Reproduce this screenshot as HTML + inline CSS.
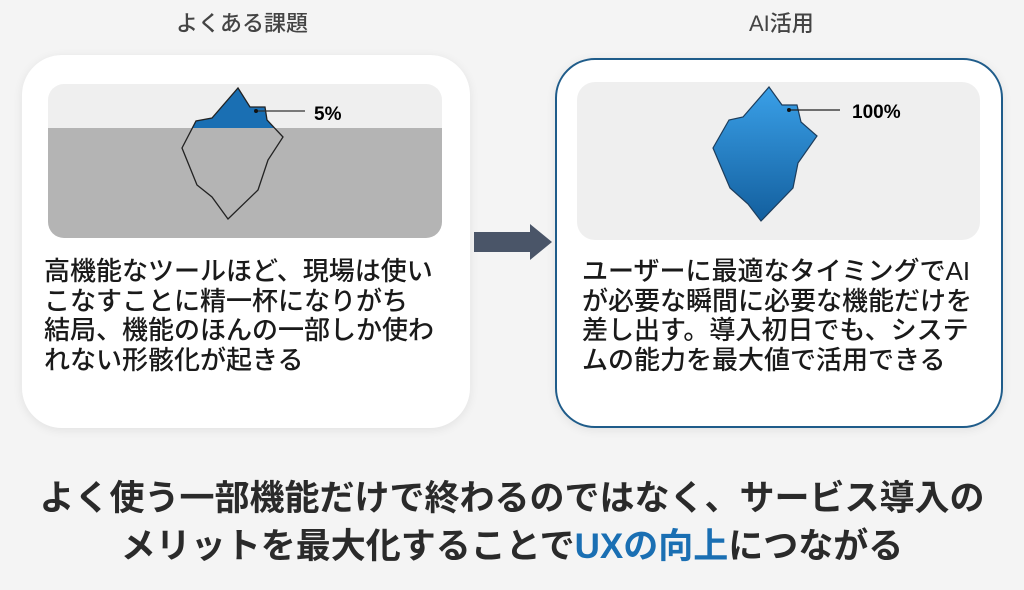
<!DOCTYPE html>
<html><head><meta charset="utf-8"><style>
body{margin:0;width:1024px;height:590px;background:#f4f4f4;font-family:"Liberation Sans","Noto Sans CJK JP",sans-serif;position:relative;overflow:hidden}
.t{position:absolute;white-space:nowrap}
.card{position:absolute;background:#fff;border-radius:40px;box-shadow:0 2px 10px rgba(0,0,0,.08)}
.body{position:absolute;font-size:26px;line-height:29.5px;color:#1a1a1a;font-weight:500;white-space:nowrap}
</style></head><body>
<div class="t" style="left:176px;top:6px;font-size:22px;color:#444;font-weight:500">よくある課題</div>
<div class="t" style="left:749px;top:6px;font-size:22px;color:#444;font-weight:500">AI活用</div>
<div class="card" style="left:22px;top:55px;width:448px;height:373px"></div>
<div class="card" style="left:555px;top:58px;width:444px;height:366px;border:2px solid #1f5c8a"></div>
<svg style="position:absolute;left:0;top:0" width="1024" height="590">
<defs><linearGradient id="g" x1="0" y1="0" x2="0" y2="1"><stop offset="0" stop-color="#3aa0e8"/><stop offset="1" stop-color="#135f9e"/></linearGradient>
<clipPath id="c"><rect x="48" y="84" width="394" height="154" rx="16"/></clipPath></defs>
<g clip-path="url(#c)"><rect x="48" y="84" width="394" height="44" fill="#efefef"/><rect x="48" y="128" width="394" height="110" fill="#b4b4b4"/></g>
<clipPath id="top"><rect x="0" y="0" width="500" height="128"/></clipPath>
<polygon clip-path="url(#top)" points="238,88 250,107 265,107 267,120 283,137 268,160 258,190 228,219 212,197 197,185 182,148 196,121 212,118" fill="#1a6fb3"/>
<polygon points="238,88 250,107 265,107 267,120 283,137 268,160 258,190 228,219 212,197 197,185 182,148 196,121 212,118" fill="none" stroke="#222" stroke-width="1.3"/>
<line x1="256" y1="111" x2="305" y2="111" stroke="#333" stroke-width="1.3"/><circle cx="256" cy="111" r="2" fill="#111"/>
<text x="314" y="120" font-size="19" font-weight="bold" font-family="Liberation Sans,sans-serif">5%</text>
<rect x="577" y="82" width="403" height="158" rx="18" fill="#efefef"/>
<polygon points="769,87 782,105 797,105 801,122 817,136 798,163 793,188 761,221 748,204 730,188 713,148 729,120 743,117" fill="url(#g)" stroke="#1d3d5c" stroke-width="1.2"/>
<line x1="789" y1="110" x2="840" y2="110" stroke="#222" stroke-width="1.3"/><circle cx="789" cy="110" r="2" fill="#111"/>
<text x="852" y="118" font-size="19" font-weight="bold" font-family="Liberation Sans,sans-serif">100%</text>
<rect x="474" y="232" width="58" height="20" fill="#4a5568"/><polygon points="530,224 552,242 530,260" fill="#4a5568"/>
</svg>
<div class="body" style="left:44px;top:257px">高機能なツールほど、現場は使い<br>こなすことに精一杯になりがち<br>結局、機能のほんの一部しか使わ<br>れない形骸化が起きる</div>
<div class="body" style="left:582px;top:257px">ユーザーに最適なタイミングでAI<br>が必要な瞬間に必要な機能だけを<br>差し出す。導入初日でも、システ<br>ムの能力を最大値で活用できる</div>
<div class="t" style="left:0;width:1024px;text-align:center;top:475px;font-size:35px;line-height:48px;font-weight:bold;color:#2a2a2a">よく使う一部機能だけで終わるのではなく、サービス導入の<br>メリットを最大化することで<span style="color:#1a6fb3">UXの向上</span>につながる</div>
</body></html>
